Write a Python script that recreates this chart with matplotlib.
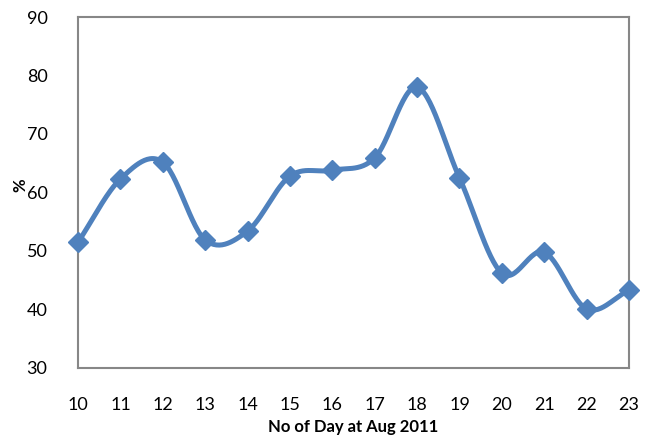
import numpy as np
import matplotlib
matplotlib.use("Agg")
import matplotlib.pyplot as plt

days = [10, 11, 12, 13, 14, 15, 16, 17, 18, 19, 20, 21, 22, 23]
percent = [51.5, 62.3, 65.2, 51.9, 53.4, 62.8, 63.8, 65.9, 78.0, 62.5, 46.2, 49.8, 40.1, 43.3]
yticks = [30, 40, 50, 60, 70, 80, 90]

plt.rcParams['font.family'] = ['Lato', 'DejaVu Sans']


def smooth(x, y, n=30):
    # catmull-rom through the points, like the office "smoothed line"
    x = np.asarray(x, float)
    y = np.asarray(y, float)
    px = np.concatenate([[2 * x[0] - x[1]], x, [2 * x[-1] - x[-2]]])
    py = np.concatenate([[2 * y[0] - y[1]], y, [2 * y[-1] - y[-2]]])
    xs, ys = [], []
    t = np.linspace(0, 1, n, endpoint=False)
    for i in range(1, len(px) - 2):
        for p, out in ((px, xs), (py, ys)):
            p0, p1, p2, p3 = p[i - 1], p[i], p[i + 1], p[i + 2]
            m1 = (p2 - p0) / 2
            m2 = (p3 - p1) / 2
            h00 = 2 * t**3 - 3 * t**2 + 1
            h10 = t**3 - 2 * t**2 + t
            h01 = -2 * t**3 + 3 * t**2
            h11 = t**3 - t**2
            out.extend(h00 * p1 + h10 * m1 + h01 * p2 + h11 * m2)
    xs.append(x[-1])
    ys.append(y[-1])
    return np.array(xs), np.array(ys)


fig = plt.figure(figsize=(6.49, 4.36), dpi=100)
ax = fig.add_axes([0.1202, 0.156, 0.8490, 0.805])

sx, sy = smooth(days, percent)
ax.plot(sx, sy, color='#4F81BD', lw=3.6, solid_capstyle='round', clip_on=False, zorder=3)
ax.plot(days, percent, ls='none', marker='D', ms=10, color='#4F81BD', clip_on=False, zorder=4)

ax.set_xlim(10, 23)
ax.set_ylim(30, 90)
ax.set_xticks(days)
ax.set_yticks(yticks)
ax.tick_params(length=0, labelsize=13, colors='black')
ax.tick_params(axis='x', pad=21)
ax.tick_params(axis='y', pad=22)
for s in ax.spines.values():
    s.set_color('#878787')
    s.set_linewidth(1.5)

ax.set_xlabel('No of Day at Aug 2011', fontsize=12, fontweight='bold', va='center')
ax.xaxis.set_label_coords(0.5, -0.167)
ax.set_ylabel('%', fontsize=12, fontweight='bold', va='center')
ax.yaxis.set_label_coords(-0.105, 0.521)

fig.savefig('out.png', dpi=100)
